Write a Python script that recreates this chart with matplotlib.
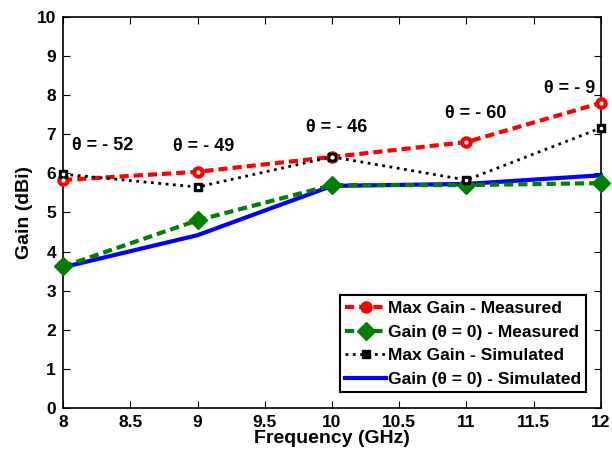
import matplotlib.pyplot as plt

plt.rcParams['font.family'] = ['Liberation Sans', 'DejaVu Sans']
plt.rcParams['font.weight'] = 'bold'

freq = [8, 9, 10, 11, 12]
max_gain_meas = [5.83, 6.04, 6.42, 6.80, 7.80]
gain0_meas = [3.62, 4.80, 5.70, 5.70, 5.75]
max_gain_sim = [5.98, 5.65, 6.42, 5.83, 7.16]
gain0_sim = [3.60, 4.42, 5.68, 5.73, 5.95]

theta_labels = ['\u03b8 = - 52', '\u03b8 = - 49', '\u03b8 = - 46', '\u03b8 = - 60', '\u03b8 = - 9']
theta_x = [8.07, 8.82, 9.81, 10.84, 11.58]
theta_y = [6.70, 6.68, 7.16, 7.52, 8.16]

fig = plt.figure(figsize=(6.12, 4.55), dpi=100)
ax = fig.add_axes([0.103, 0.103, 0.879, 0.860])

ax.plot(freq, gain0_sim, '-', color='blue', lw=3, label='Gain (\u03b8 = 0) - Simulated',
        clip_on=False, zorder=2)
ax.plot(freq, gain0_meas, '--', color='green', lw=3, marker='D', ms=9,
        dashes=(2.2, 1.2), label='Gain (\u03b8 = 0) - Measured', clip_on=False, zorder=3)
ax.plot(freq, max_gain_meas, '--', color='red', lw=3, marker='o', ms=8,
        mfc='red', mec='red', dashes=(2.2, 1.2), label='Max Gain - Measured',
        clip_on=False, zorder=3)
ax.plot(freq, max_gain_sim, ':', color='black', lw=2, marker='s', ms=6,
        mfc='black', label='Max Gain - Simulated', clip_on=False, zorder=4)

# small white centres on the markers
ax.plot(freq, max_gain_meas, 'o', color='white', ms=2, ls='none', clip_on=False, zorder=5)
ax.plot(freq, max_gain_sim, 's', color='white', ms=1.5, ls='none', clip_on=False, zorder=5)

for x, y, t in zip(theta_x, theta_y, theta_labels):
    ax.text(x, y, t, fontsize=13, fontweight='bold', va='center', ha='left')

ax.set_xlim(8, 12)
ax.set_ylim(0, 10)
ax.set_xticks([8, 8.5, 9, 9.5, 10, 10.5, 11, 11.5, 12])
ax.set_xticklabels(['8', '8.5', '9', '9.5', '10', '10.5', '11', '11.5', '12'])
ax.set_yticks(range(11))
ax.tick_params(direction='in', top=True, right=True, labelsize=12.5, length=5, pad=5)
for lbl in ax.get_xticklabels() + ax.get_yticklabels():
    lbl.set_fontweight('bold')
for s in ax.spines.values():
    s.set_linewidth(1.2)

ax.set_xlabel('Frequency (GHz)', fontsize=14, fontweight='bold', labelpad=0)
ax.set_ylabel('Gain (dBi)', fontsize=14, fontweight='bold', labelpad=3)

h, l = ax.get_legend_handles_labels()
order = [2, 1, 3, 0]
leg = ax.legend([h[i] for i in order], [l[i] for i in order], loc='lower right',
                bbox_to_anchor=(0.973, 0.04), fontsize=12.5,
                frameon=True, fancybox=False, edgecolor='black', handlelength=2.4,
                handletextpad=0.1, borderpad=0.3, labelspacing=0.5, borderaxespad=0,
                framealpha=1)
leg.get_frame().set_linewidth(1.5)
for t in leg.get_texts():
    t.set_fontweight('bold')

fig.savefig('out.png', dpi=100)
